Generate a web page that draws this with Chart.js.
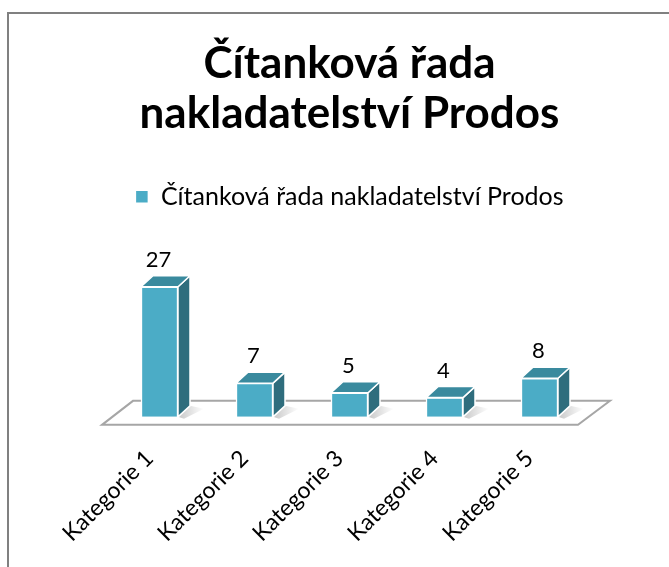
<!DOCTYPE html>
<html>
<head>
<meta charset="utf-8">
<script src="https://cdn.jsdelivr.net/npm/chart.js@4/dist/chart.umd.min.js"></script>
<style>
  html, body { margin: 0; padding: 0; background: #fff; }
</style>
</head>
<body>
<canvas id="chart" width="669" height="567"></canvas>
<script>
var categories = ['Kategorie 1', 'Kategorie 2', 'Kategorie 3', 'Kategorie 4', 'Kategorie 5'];
var values = [27, 7, 5, 4, 8];
var seriesName = 'Čítanková řada nakladatelství Prodos';
var titleLines = ['Čítanková řada', 'nakladatelství Prodos'];

var frontColor = '#4bacc6';
var topColor = '#3a8a9e';
var sideColor = '#2f6d7d';
var depth = { dx: 12, dy: -11 };

// outer frame like the Excel chart border
var frame = {
  id: 'frame',
  beforeDraw: function(chart) {
    var ctx = chart.ctx;
    ctx.save();
    ctx.strokeStyle = '#808080';
    ctx.lineWidth = 2;
    ctx.beginPath();
    ctx.moveTo(8, 567);
    ctx.lineTo(8, 13);
    ctx.lineTo(669, 13);
    ctx.stroke();
    ctx.restore();
  }
};

// fake 3d: floor plate, side and top faces, value labels
var bars3d = {
  id: 'bars3d',
  beforeDatasetsDraw: function(chart) {
    var a = chart.chartArea;
    var ctx = chart.ctx;
    var b = a.bottom;
    ctx.save();
    ctx.beginPath();
    ctx.moveTo(a.left - 10, b + 8);
    ctx.lineTo(a.right - 9, b + 8);
    ctx.lineTo(a.right + 23, b - 16);
    ctx.lineTo(a.left + 21, b - 16);
    ctx.closePath();
    ctx.fillStyle = '#ffffff';
    ctx.fill();
    ctx.strokeStyle = '#a6a6a6';
    ctx.lineWidth = 2;
    ctx.stroke();

    // soft shadow on the floor
    chart.getDatasetMeta(0).data.forEach(function(bar) {
      var p = bar.getProps(['x', 'base', 'width'], true);
      var r = p.x + p.width / 2;
      var g = ctx.createLinearGradient(r, 0, r + depth.dx + 14, 0);
      g.addColorStop(0, 'rgba(0,0,0,0.22)');
      g.addColorStop(1, 'rgba(0,0,0,0)');
      ctx.beginPath();
      ctx.moveTo(r, p.base);
      ctx.lineTo(r + depth.dx, p.base + depth.dy);
      ctx.lineTo(r + depth.dx + 14, p.base + depth.dy + 3);
      ctx.lineTo(r + 6, p.base + 2);
      ctx.closePath();
      ctx.fillStyle = g;
      ctx.fill();
    });
    ctx.restore();
  },
  afterDatasetsDraw: function(chart) {
    var ctx = chart.ctx;
    var meta = chart.getDatasetMeta(0);
    ctx.save();
    meta.data.forEach(function(bar, i) {
      var p = bar.getProps(['x', 'y', 'base', 'width'], true);
      var l = p.x - p.width / 2, r = p.x + p.width / 2;
      ctx.lineWidth = 1.5;
      ctx.strokeStyle = '#ffffff';
      ctx.lineJoin = 'round';

      ctx.beginPath();
      ctx.moveTo(r, p.y);
      ctx.lineTo(r + depth.dx, p.y + depth.dy);
      ctx.lineTo(r + depth.dx, p.base + depth.dy);
      ctx.lineTo(r, p.base);
      ctx.closePath();
      ctx.fillStyle = sideColor;
      ctx.fill();
      ctx.stroke();

      ctx.beginPath();
      ctx.moveTo(l, p.y);
      ctx.lineTo(l + depth.dx, p.y + depth.dy);
      ctx.lineTo(r + depth.dx, p.y + depth.dy);
      ctx.lineTo(r, p.y);
      ctx.closePath();
      ctx.fillStyle = topColor;
      ctx.fill();
      ctx.stroke();

      ctx.fillStyle = '#000';
      ctx.font = '22px Lato';
      ctx.textAlign = 'center';
      ctx.textBaseline = 'middle';
      ctx.fillText(values[i], p.x - 1, p.y - 27);
    });
    ctx.restore();
  }
};

var ctx = document.getElementById('chart').getContext('2d');
var myChart = new Chart(ctx, {
  type: 'bar',
  data: {
    labels: categories,
    datasets: [{
      label: seriesName,
      data: values,
      backgroundColor: frontColor,
      borderColor: '#ffffff',
      borderWidth: 1.5,
      barThickness: 37
    }]
  },
  options: {
    responsive: false,
    animation: false,
    layout: {
      padding: { left: 112, right: 82, top: 20, bottom: 0 }
    },
    plugins: {
      title: {
        display: true,
        text: titleLines,
        color: '#000',
        font: { family: 'Lato', size: 44, weight: 'bold', lineHeight: 1.14 },
        padding: { top: 19, bottom: 35 }
      },
      legend: {
        display: true,
        labels: {
          color: '#000',
          font: { family: 'Lato', size: 25 },
          boxWidth: 13,
          boxHeight: 13
        }
      },
      tooltip: { enabled: false }
    },
    scales: {
      x: {
        grid: { display: false },
        border: { display: false },
        ticks: {
          color: '#000',
          font: { family: 'Lato', size: 23 },
          maxRotation: 45,
          minRotation: 45,
          padding: 20,
          labelOffset: -10
        }
      },
      y: {
        display: false,
        min: 0,
        max: 41
      }
    }
  },
  plugins: [frame, bars3d]
});
</script>
</body>
</html>
